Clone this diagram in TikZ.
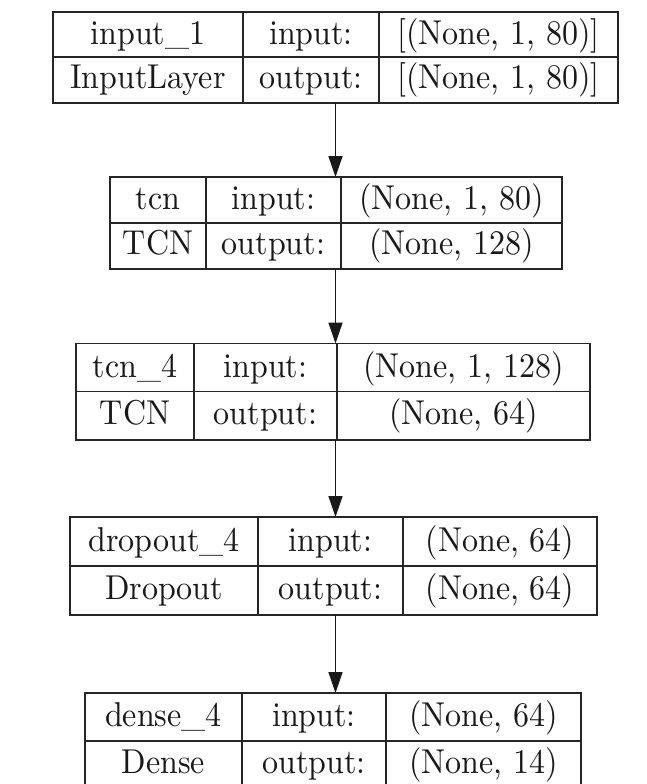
\documentclass[tikz,border=0pt]{standalone}
\usetikzlibrary{arrows.meta}
\newcommand\tx[1]{\scalebox{3.2}[3.45]{\vphantom{(}#1}}
\begin{document}
\begin{tikzpicture}[x=1pt,y=-1pt,
  frame/.style={draw=black!85, line width=1.6pt, inner sep=0pt, outer sep=0pt, anchor=north west},
  divider/.style={draw=black!85, line width=1.6pt},
  lbl/.style={inner sep=0pt, anchor=center, text=black!90},
  flow/.style={draw=black!90, line width=1.6pt, -{Triangle[length=21pt,width=14pt]}}]
\useasboundingbox (0,0) rectangle (647,784);
\fill[white] (0,0) rectangle (647,784);
% box 1
\node[frame, minimum width=565pt, minimum height=91pt] (b1) at (53,12) {};
\draw[divider] (243,12) -- (243,103) (379,12) -- (379,103) (53,57) -- (618,57);
\node[lbl] (n1a) at (148,35.5) {\tx{input\_1}};
\node[lbl] (n1b) at (311,35.5) {\tx{input:}};
\node[lbl] (n1c) at (498.5,35.5) {\tx{[(None, 1, 80)]}};
\node[lbl] (n1d) at (148,80) {\tx{InputLayer}};
\node[lbl] (n1e) at (311,80) {\tx{output:}};
\node[lbl] (n1f) at (498.5,80) {\tx{[(None, 1, 80)]}};
% box 2
\node[frame, minimum width=452pt, minimum height=92pt] (b2) at (110,177) {};
\draw[divider] (206,177) -- (206,269) (341,177) -- (341,269) (110,223) -- (562,223);
\node[lbl] (n2a) at (158,201) {\tx{tcn}};
\node[lbl] (n2b) at (273.5,201) {\tx{input:}};
\node[lbl] (n2c) at (451.5,201) {\tx{(None, 1, 80)}};
\node[lbl] (n2d) at (158,246) {\tx{TCN}};
\node[lbl] (n2e) at (273.5,246) {\tx{output:}};
\node[lbl] (n2f) at (451.5,246) {\tx{(None, 128)}};
% box 3
\node[frame, minimum width=514pt, minimum height=96.5pt] (b3) at (76,343.5) {};
\draw[divider] (194,343.5) -- (194,440) (337,343.5) -- (337,440) (76,391.5) -- (590,391.5);
\node[lbl] (n3a) at (135,368.5) {\tx{tcn\_4}};
\node[lbl] (n3b) at (265.5,368.5) {\tx{input:}};
\node[lbl] (n3c) at (463.5,368.5) {\tx{(None, 1, 128)}};
\node[lbl] (n3d) at (135,415.75) {\tx{TCN}};
\node[lbl] (n3e) at (265.5,415.75) {\tx{output:}};
\node[lbl] (n3f) at (463.5,415.75) {\tx{(None, 64)}};
% box 4
\node[frame, minimum width=527pt, minimum height=98pt] (b4) at (70,517) {};
\draw[divider] (258,517) -- (258,615) (403,517) -- (403,615) (70,566) -- (597,566);
\node[lbl] (n4a) at (164,542.5) {\tx{dropout\_4}};
\node[lbl] (n4b) at (330.5,542.5) {\tx{input:}};
\node[lbl] (n4c) at (500,542.5) {\tx{(None, 64)}};
\node[lbl] (n4d) at (164,590.5) {\tx{Dropout}};
\node[lbl] (n4e) at (330.5,590.5) {\tx{output:}};
\node[lbl] (n4f) at (500,590.5) {\tx{(None, 64)}};
% box 5
\node[frame, minimum width=496pt, minimum height=96pt] (b5) at (85,693) {};
\draw[divider] (242,693) -- (242,789) (386,693) -- (386,789) (85,741) -- (581,741);
\node[lbl] (n5a) at (163.5,718) {\tx{dense\_4}};
\node[lbl] (n5b) at (314,718) {\tx{input:}};
\node[lbl] (n5c) at (483.5,718) {\tx{(None, 64)}};
\node[lbl] (n5d) at (163.5,765) {\tx{Dense}};
\node[lbl] (n5e) at (314,765) {\tx{output:}};
\node[lbl] (n5f) at (483.5,765) {\tx{(None, 14)}};
% arrows
\draw[flow] (b1.south) -- (b1.south |- b2.north);
\draw[flow] (b2.south -| b1.south) -- (b1.south |- b3.north);
\draw[flow] (b3.south -| b1.south) -- (b1.south |- b4.north);
\draw[flow] (b4.south -| b1.south) -- (b1.south |- b5.north);
\end{tikzpicture}
\end{document}
